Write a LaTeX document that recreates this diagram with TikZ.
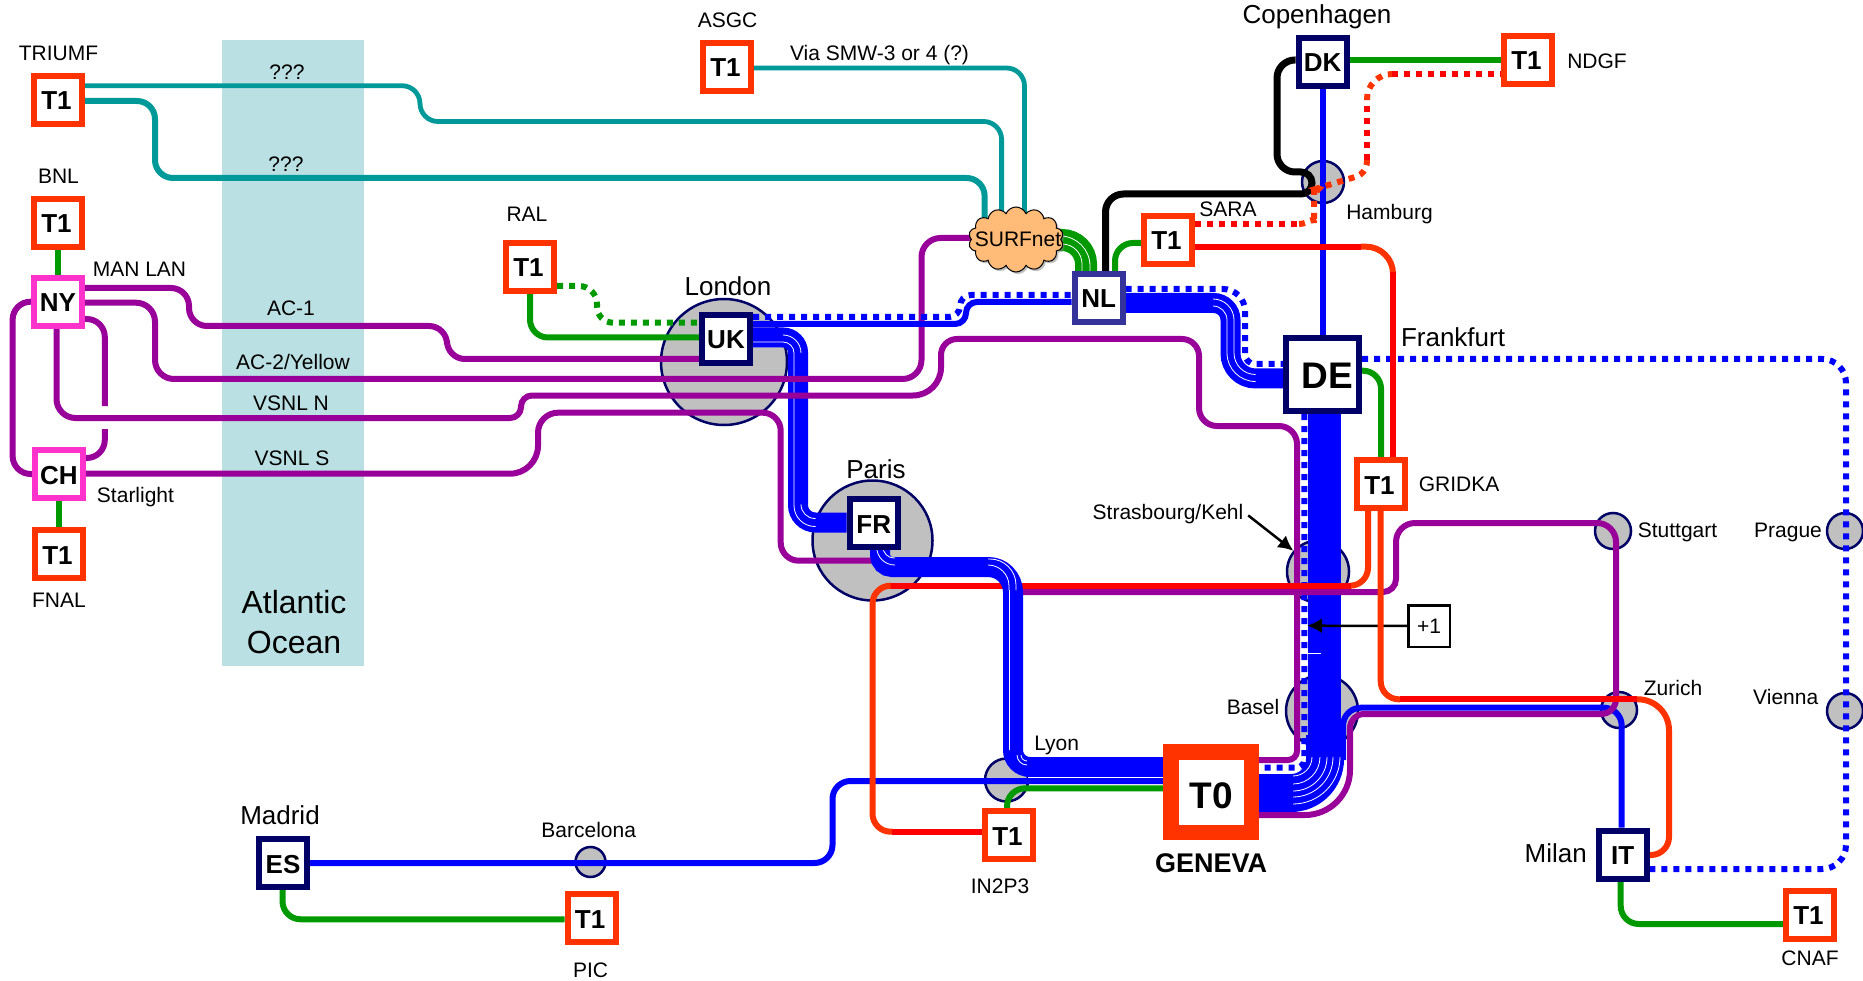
\documentclass[tikz,border=0pt]{standalone}
\usepackage{fontspec}
\setmainfont{Liberation Sans}
\usetikzlibrary{shapes.symbols,shadows,arrows.meta}
\pgfdeclarelayer{base}
\pgfdeclarelayer{lines}
\pgfsetlayers{base,lines,main}
\definecolor{cteal}{HTML}{009999}
\definecolor{cpurple}{HTML}{990099}
\definecolor{cgreen}{HTML}{009900}
\definecolor{cblue}{HTML}{0000FF}
\definecolor{cred}{HTML}{FF0000}
\definecolor{corange}{HTML}{FF3300}
\definecolor{cnavy}{HTML}{000066}
\definecolor{cnl}{HTML}{333399}
\definecolor{cmag}{HTML}{FF33CC}
\definecolor{cocean}{HTML}{BBE0E3}
\definecolor{chub}{HTML}{C0C0C0}
\definecolor{ccloud}{HTML}{FFBB77}
\tikzset{
  x=1pt,y=-1pt,
  rc/.style={rounded corners=#1pt},
  boxb/.style={draw,fill=white,rectangle,inner sep=0,line width=6pt,minimum size=48pt,text height=20pt,text depth=0pt,font=\fontsize{26}{26}\selectfont\bfseries},
  tone/.style={boxb,draw=corange,execute at end node=\kern3pt},
  hubbox/.style={boxb,draw=cnavy},
  nlbox/.style={boxb,draw=cnl},
  exch/.style={boxb,draw=cmag},
  lbl/.style={inner sep=0,text height=15pt,text depth=0pt,font=\fontsize{21}{25}\selectfont},
  lblb/.style={inner sep=0,text height=19pt,text depth=0pt,font=\fontsize{26}{30}\selectfont},
  hubc/.style={circle,draw=cnavy,fill=chub,line width=2.5pt,inner sep=0,minimum size=#1pt},
  lk/.style={line width=6pt,rc=18},
  tl/.style={lk,draw=cteal},
  pl/.style={lk,draw=cpurple},
  gl/.style={lk,draw=cgreen},
  bl/.style={lk,draw=cblue},
  rl/.style={lk,draw=cred},
  ol/.style={lk,draw=corange},
  dotl/.style={dash pattern=on 6pt off 6pt},
  wl/.style={draw=white,line width=0.8pt},
  arrowk/.style={draw=black,line width=2.5pt,-{Latex[length=15pt,width=15pt]}},
}
\begin{document}
\begin{tikzpicture}
\useasboundingbox (0,0) rectangle (1863,981);
% ---- base shapes
\begin{pgfonlayer}{base}
\node[fill=cocean,inner sep=0,minimum width=142pt,minimum height=626pt] (ocean) at (293,353) {};
\node[hubc=126] (london) at (724,362) {};
\node[hubc=120] (paris) at (872.5,540.5) {};
\node[hubc=42] (hamburg) at (1323,182) {};
\node[hubc=62] (strasb) at (1318,571.5) {};
\node[hubc=72] (basel) at (1322,711) {};
\node[hubc=43] (lyon) at (1006.5,780) {};
\node[hubc=30] (barcelona) at (590.5,862) {};
\node[hubc=36] (zurich) at (1619,710) {};
\node[hubc=36] (stuttgart) at (1613,531) {};
\node[hubc=36] (prague) at (1845,531) {};
\node[hubc=36] (vienna) at (1845,711) {};
\end{pgfonlayer}
% ---- boxes
\node[tone] (triumf) at (58,100) {T1};
\node[tone] (bnl) at (58,223) {T1};
\node[exch] (ny) at (58,302) {NY};
\node[exch] (ch) at (59,474) {CH};
\node[tone] (fnal) at (59,554) {T1};
\node[tone] (ral) at (530,267) {T1};
\node[tone] (asgc) at (727,67) {T1};
\node[tone] (sara) at (1168,240) {T1};
\node[tone] (ndgf) at (1528,60) {T1};
\node[tone] (gridka) at (1381,484) {T1};
\node[tone] (in2p3) at (1009,835) {T1};
\node[tone] (pic) at (591.6,918) {T1};
\node[tone] (cnaf) at (1810,914.7) {T1};
\node[hubbox] (uk) at (726,339) {UK};
\node[hubbox] (fr) at (873.7,523) {FR};
\node[hubbox] (es) at (283,863) {ES};
\node[hubbox] (dk) at (1322.7,62) {DK};
\node[hubbox] (it) at (1622.7,854.5) {IT};
\node[nlbox] (nl) at (1098.7,298) {NL};
\node[hubbox,minimum size=73pt,text height=27.5pt,font=\fontsize{37}{37}\selectfont\bfseries,execute at begin node=\kern9pt] (de) at (1322.5,374.5) {DE};
\node[draw=corange,fill=white,rectangle,inner sep=0,line width=15.5pt,minimum size=80.5pt,text height=33.5pt,text depth=0pt,font=\fontsize{37}{37}\selectfont\bfseries] (tzero) at (1211,792) {T0};
\node[draw=black,fill=white,rectangle,inner sep=0,line width=2.5pt,minimum size=41.5pt,font=\fontsize{21}{21}\selectfont] (plus) at (1429,626) {+1};
\node[cloud,cloud puffs=14,cloud puff arc=135,aspect=1.45,draw=black,line width=1pt,fill=ccloud,inner sep=0,minimum width=95pt,minimum height=65pt,drop shadow={shadow xshift=2pt,shadow yshift=-2pt,fill=gray}] (surf) at (1016,239.5) {};
% ---- labels
\node[lbl] (ltriumf) at (58.5,52.7) {TRIUMF};
\node[lbl] (lbnl) at (58.5,176) {BNL};
\node[lbl] (lmanlan) at (139.5,269) {MAN LAN};
\node[lbl] (lstar) at (135.5,495) {Starlight};
\node[lbl] (lfnal) at (59,600) {FNAL};
\node[lbl] (lq1) at (287,72) {???};
\node[lbl] (lq2) at (286,164) {???};
\node[lbl] (lac1) at (291,308) {AC-1};
\node[lbl] (lac2) at (293,362) {AC-2/Yellow};
\node[lbl] (lvn) at (291,403) {VSNL N};
\node[lbl] (lvs) at (292,458) {VSNL S};
\node[inner sep=0,align=center,font=\fontsize{32}{40}\selectfont] (latl) at (294,622) {Atlantic\\Ocean};
\node[lbl] (lral) at (527,214) {RAL};
\node[lbl] (lasgc) at (727.5,20) {ASGC};
\node[lbl] (lvia) at (879.5,53) {Via SMW-3 or 4 (?)};
\node[lbl] (lsurf) at (1018,239) {SURFnet};
\node[lblb] (llondon) at (728,286) {London};
\node[lblb] (lparis) at (876,469) {Paris};
\node[lblb] (lcopen) at (1317,14) {Copenhagen};
\node[lbl] (lndgf) at (1597,60.7) {NDGF};
\node[lbl] (lsara) at (1228,209) {SARA};
\node[lbl] (lhamburg) at (1389.5,211.7) {Hamburg};
\node[lblb] (lfrank) at (1453,337) {Frankfurt};
\node[lbl] (lgridka) at (1459,484) {GRIDKA};
\node[lbl] (lstrasb) at (1168,511.7) {Strasbourg/Kehl};
\node[lbl] (lstutt) at (1677.5,530) {Stuttgart};
\node[lbl] (lprague) at (1788,530) {Prague};
\node[lbl] (lvienna) at (1785.7,697) {Vienna};
\node[lbl] (lzurich) at (1673,687.7) {Zurich};
\node[lbl] (lbasel) at (1253,706.7) {Basel};
\node[lbl] (llyon) at (1056.7,742.7) {Lyon};
\node[lblb] (lmilan) at (1555.7,853) {Milan};
\node[lbl] (lcnaf) at (1810,958) {CNAF};
\node[lblb] (lmadrid) at (280,815) {Madrid};
\node[lbl] (lbarc) at (588.7,830) {Barcelona};
\node[lbl] (lpic) at (590.5,970) {PIC};
\node[lbl] (lin2p3) at (1000,886) {IN2P3};
\node[inner sep=0,yshift=-1pt,font=\fontsize{27}{30}\selectfont\bfseries] (lgeneva) at (1211,862) {GENEVA};
\coordinate (gapA) at (104.8,406);
\coordinate (gapB) at (104.8,429);
\coordinate (plusTip) at (1307,625.7);
% ---- connectors
\begin{pgfonlayer}{lines}
% teal
\draw[tl,line width=4.8pt] (triumf.east |- 0,85.7) -- (420,85.7) -- (420,121.5) -- (1001.6,121.5) -- (1001.6,0 |- surf.center);
\draw[tl] (triumf.east |- 0,101) -- (155,101) -- (155,178) -- (984.6,178) -- (984.6,0 |- surf.center);
\draw[tl,line width=4.8pt] (asgc.east |- 0,68) -- (1024.5,68) -- (1024.5,0 |- surf.center);
% green
\draw[gl] (bnl) -- (ny);
\draw[gl] (ch) -- (fnal);
\draw[gl] (dk.east |- 0,60) -- (ndgf.west |- 0,60);
\draw[gl] (530,0 |- ral.south) -- (530,337.5) -- (uk.west |- 0,337.5);
\draw[gl,dotl] (ral.east |- 0,286) -- (597,286) [rc=16] -- (597,322.7) -- (uk.west |- 0,322.7);
\draw[gl] (de.east |- 0,370.7) -- (1381,370.7) -- (1381,0 |- gridka.north);
\draw[gl] (282.5,0 |- es.south) -- (282.5,919.3) -- (pic.west |- 0,919.3);
\draw[gl] (1620.7,0 |- it.south) -- (1620.7,924) -- (cnaf.west |- 0,924);
\draw[gl,line width=22pt,rc=24] (surf.center |- 0,240) -- (1086,240) -- (1086,0 |- nl.north);
\draw[wl,rc=30] (surf.center |- 0,236) -- (1090,236) -- (1090,0 |- nl.north);
\draw[wl,rc=20] (surf.center |- 0,244) -- (1082,244) -- (1082,0 |- nl.north);
\draw[gl] (sara.west |- 0,243) -- (1115,243) -- (1115,0 |- nl.north);
% black
\draw[lk,draw=black,line width=7pt] (dk.west |- 0,60) -- (1277,60) -- (1277,172) [rc=11] -- (1312,172) -- (1312,194) [rc=18] -- (1105.5,194) -- (1105.5,0 |- nl.north);
% blue thin and trunk
\draw[bl] (dk) -- (1322.7,0 |- de.north);
\draw[bl] (es.east |- 0,863) -- (832.5,863) -- (832.5,781) -- (tzero.west |- 0,781);
\draw[lk,draw=cblue,line width=33pt] (1324.5,0 |- de.south) -- (1324.5,750);
\draw[lk,draw=cblue,line width=38pt,rc=34] (1325,735) -- (1325,793) -- (tzero.east |- 0,793);
\draw[bl] (1621.7,0 |- it.north) -- (1621.7,707.7) -- (1343,707.7) -- (1343,760);
\foreach \rr in {19,27,34,40,47}
  \draw[wl,rounded corners=\rr pt] (1293,{757+\rr}) -- ({1293+\rr},{757+\rr}) -- ({1293+\rr},757);
\draw[wl] (1294,653) -- (1321,653);
% dotted blue
\draw[bl,dotl,rc=8] (1304.3,0 |- de.south) -- (1304.3,767.7) -- (tzero.east |- 0,767.7);
\draw[bl,dotl,rc=22] (nl.east |- 0,289) -- (1245,289) [rc=10] -- (1245,364) -- (de.west |- 0,364);
\draw[bl,dotl,rc=24] (de.east |- 0,359) -- (1846,359) -- (1846,869) -- (it.east |- 0,869);
% UK-FR bundle
\draw[lk,draw=cblue,line width=20pt,rc=15] (uk.east |- 0,337.5) -- (798,337.5) [rc=17.5] -- (798,522.5) -- (fr.west |- 0,522.5);
\draw[wl,rc=11] (uk.east |- 0,342) -- (794,342) [rc=21] -- (794,526.5) -- (815.5,526.5);
\draw[wl,rc=18] (783,335) -- (801,335) -- (801,353);
\draw[wl,rc=14] (801,505) -- (801,518.5) -- (815.5,518.5);
% purple
\draw[pl] (ny.west |- 0,301.7) -- (12.6,301.7) -- (12.6,474) -- (ch.west |- 0,474);
\draw[pl] (ny.east |- 0,319) -- (104.8,319) -- (gapA);
\draw[pl] (gapB) -- (104.8,458) -- (ch.east |- 0,458);
\draw[pl,rc=18] (ny.east |- 0,288) -- (189,288) -- (189,326) -- (447,326) -- (447,359) -- (uk.west |- 0,359);
\draw[pl,rc=19] (ny.east |- 0,302.7) -- (155,302.7) -- (155,379) -- (921.5,379) -- (921.5,238) -- (surf.center |- 0,238);
\draw[pl,rc=19] (56.5,0 |- ny.south) -- (56.5,418) [rc=11] -- (521,418) -- (521,395.5) [rc=28] -- (941,395.5) [rc=16] -- (941,339) [rc=17] -- (1199,339) [rc=18] -- (1199,426) -- (1297,426) [rc=9] -- (1297,760) -- (tzero.east |- 0,760);
\draw[pl,rc=28] (ch.east |- 0,473.7) -- (538,473.7) [rc=20] -- (538,412.7) [rc=18] -- (780.7,412.7) -- (780.7,560.7) [rc=26] -- (1017,560.7) [sharp corners] -- (1017,592) [rc=13] -- (1396,592) [rc=19] -- (1396,523) -- (1616,523) [rc=15] -- (1616,714) [rc=14] -- (1350,714) [rc=45] -- (1350,815) -- (tzero.east |- 0,815);
% UK-NL, NL-DE
\draw[bl,dotl,rc=11] (uk.east |- 0,317) -- (960,317) -- (960,295) -- (nl.west |- 0,295);
\draw[bl,rc=11] (uk.east |- 0,324) -- (966,324) -- (966,302) -- (nl.west |- 0,302);
\draw[lk,draw=cblue,line width=20pt,rc=17] (nl.east |- 0,303) -- (1230.5,303) [rc=25] -- (1230.5,378.5) -- (de.west |- 0,378.5);
\draw[wl,rc=14] (1213,306) -- (1227,306) [rc=28.5] -- (1227,381.5) -- (1255.5,381.5);
\draw[wl,rc=21] (1213,299) -- (1234,299) [rc=21.5] -- (1234,374.5) -- (1255.5,374.5);
% arrows
\draw[arrowk] (plus) -- (plusTip);
\draw[arrowk,shorten <=6pt] (lstrasb.east) -- (strasb.140);
% red and orange
\draw[rl] (sara.east |- 0,246.7) -- (1361,246.7);
\draw[ol,rc=27] (1361,246.7) -- (1393,246.7) -- (1393,272);
\draw[rl] (1393,272) -- (1393,0 |- gridka.north);
\draw[rl,dotl] (sara.east |- 0,224) -- (1299,224);
\draw[ol,dotl] (1299,224) .. controls (1309,224) and (1314,215) .. (1314,206) .. controls (1314,195) and (1322,187) .. (1335,183) .. controls (1355,177) and (1367,175) .. (1367,160);
\draw[rl,dotl] (1367,160) -- (1367,100);
\draw[ol,dotl,rc=25] (1367,100) -- (1367,74) -- (1392,74);
\draw[rl,dotl] (1392,74) -- (ndgf.west |- 0,74);
\draw[ol] (1368,0 |- gridka.south) -- (1368,585.7) -- (1351,585.7);
\draw[rl] (1351,585.7) -- (890,585.7);
\draw[ol] (890,585.7) -- (872.5,585.7) -- (872.5,831.7) -- (892,831.7);
\draw[rl] (892,831.7) -- (in2p3.west |- 0,831.7);
\draw[ol] (1380.7,0 |- gridka.south) -- (1380.7,699.3) -- (1400,699.3);
\draw[rl] (1400,699.3) -- (1637,699.3);
\draw[ol,rc=31] (1637,699.3) -- (1669,699.3) [rc=18] -- (1669,855) -- (it.east |- 0,855);
% FR-T0 bundle
\draw[lk,draw=cblue,line width=20pt,rc=12] (880,0 |- fr.south) -- (880,567) [rc=25] -- (1013,567) [rc=17] -- (1013,767) -- (tzero.west |- 0,767);
\draw[wl,rc=18] (876.7,0 |- fr.south) -- (876.7,565) -- (895,565);
\draw[wl,rc=11] (883,0 |- fr.south) -- (883,558) -- (895,558);
\draw[wl,rc=21] (988,565) -- (1009,565) -- (1009,590);
\draw[wl,rc=26] (988,559) -- (1016,559) -- (1016,590);
\draw[wl] (1009,590) -- (1009,750);
\draw[wl,rc=10] (1017,755) -- (1017,765) -- (1027,765);
\draw[wl,rc=6] (1021,755) -- (1021,761) -- (1027,761);
\draw[wl] (1028,777.5) -- (tzero.west |- 0,777.5);
\draw[gl] (1007,0 |- in2p3.north) -- (1007,788.3) -- (tzero.west |- 0,788.3);
\end{pgfonlayer}
\end{tikzpicture}
\end{document}
